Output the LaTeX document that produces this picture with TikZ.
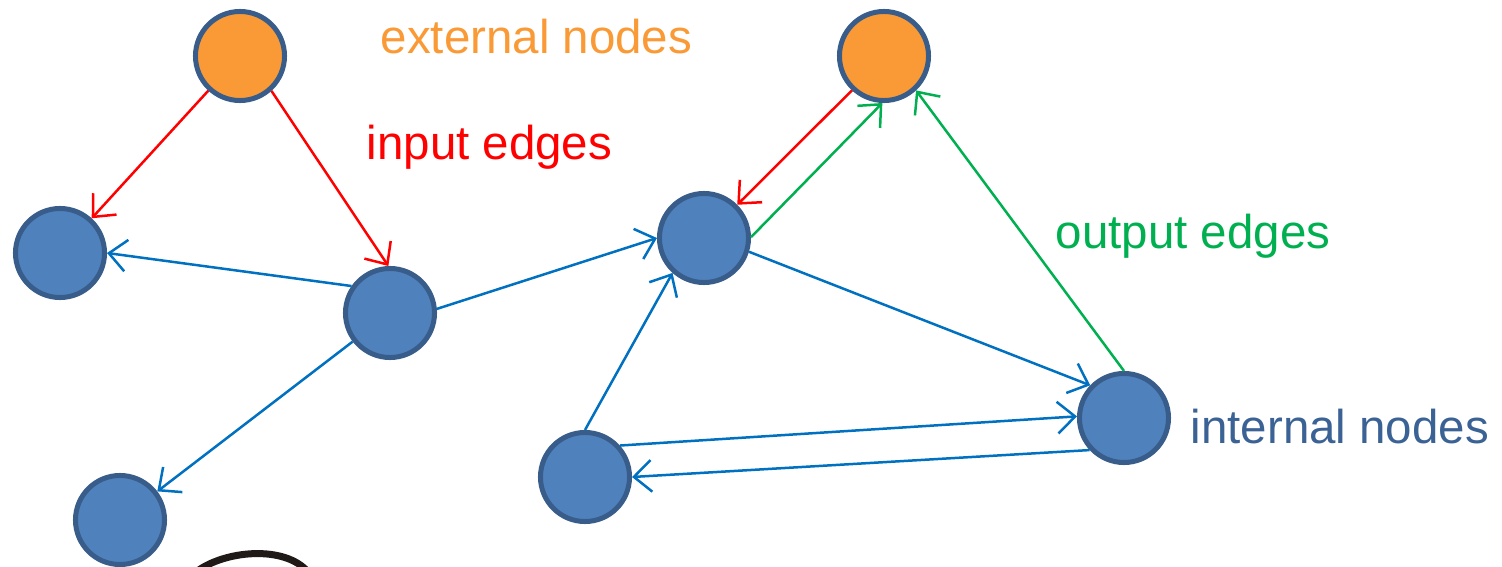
\documentclass[tikz,border=0pt]{standalone}
\usepackage{fontspec}
\setmainfont{Liberation Sans}
\usepackage{tikz}
\usetikzlibrary{arrows.meta}
\definecolor{nodeblue}{HTML}{4F81BD}
\definecolor{nodeline}{HTML}{385D8A}
\definecolor{nodeorange}{HTML}{FA9A36}
\definecolor{edgeblue}{HTML}{0070C0}
\definecolor{edgered}{HTML}{FF0000}
\definecolor{edgegreen}{HTML}{00B050}
\definecolor{textblue}{HTML}{3A6294}
\definecolor{arcblack}{HTML}{1F1A17}

\begin{document}
\begin{tikzpicture}[x=0.01cm, y=-0.01cm,
        intnode/.style={circle, draw=nodeline, fill=nodeblue, line width=0.05cm,
            minimum size=0.89cm, inner sep=0pt},
        extnode/.style={intnode, fill=nodeorange},
        link/.style={line width=0.025cm, -{Straight Barb[length=5pt,width=9pt]}},
        tag/.style={anchor=base west, inner sep=0pt, font=\fontsize{13.5}{16}\selectfont}]
        \useasboundingbox (0,0) rectangle (1502,567);
        \clip (0,0) rectangle (1502,567);
        % external nodes
        \node [extnode] (e1) at (240,56) {};
        \node [extnode] (e2) at (884,56) {};
        % internal nodes
        \node [intnode] (a) at (60,253) {};
        \node [intnode] (b) at (390,313) {};
        \node [intnode] (c) at (120,520) {};
        \node [intnode] (d) at (704,238) {};
        \node [intnode] (f) at (585,477) {};
        \node [intnode] (g) at (1124,418) {};
        % input edges
        \draw [link, edgered] (e1) -- (a);
        \draw [link, edgered] (e1.-48) -- (b.92);
        \draw [link, edgered] (e2.227) -- (d.45);
        % internal edges
        \draw [link, edgeblue] (b.145) -- (a.0);
        \draw [link, edgeblue] (b) -- (c);
        \draw [link, edgeblue] (b.5) -- (d.180);
        \draw [link, edgeblue] (d.-17) -- (g.136);
        \draw [link, edgeblue] (f.90) -- (d.228);
        \draw [link, edgeblue] (f.42) -- (g.178);
        \draw [link, edgeblue] (g.223) -- (f.0);
        % output edges
        \draw [link, edgegreen] (d.1) -- (e2.268);
        \draw [link, edgegreen] (g.90) -- (e2.-47);
        % texts
        \node [tag, text=nodeorange] (ext) at (380,54) {external nodes};
        \node [tag, text=edgered] (inp) at (366,160) {input edges};
        \node [tag, text=edgegreen] (outp) at (1055,249) {output edges};
        \node [tag, text=textblue] (int) at (1190,443) {internal nodes};
        % cut-off stroke at the bottom
        \draw [line width=0.07cm, arcblack] (196,572) .. controls (225,550) and (285,545) .. (308,572);
    \end{tikzpicture}
\end{document}
